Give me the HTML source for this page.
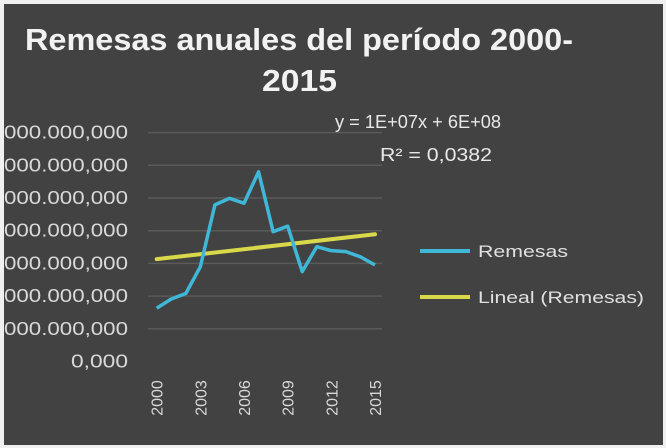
<!DOCTYPE html>
<html><head><meta charset="utf-8"><style>
html,body{margin:0;padding:0;background:#f0f0f0;}
svg{display:block;font-family:"Liberation Sans",sans-serif;}
</style></head><body>
<svg width="666" height="448" viewBox="0 0 666 448">
<rect x="4" y="4" width="659" height="441" fill="#424242"/>
<text x="25" y="50" font-size="31" font-weight="bold" fill="#f2f2f2" textLength="548" lengthAdjust="spacingAndGlyphs">Remesas anuales del período 2000-</text>
<text x="262" y="91" font-size="31" font-weight="bold" fill="#f2f2f2" textLength="75" lengthAdjust="spacingAndGlyphs">2015</text>
<g id="grid"></g>
<g id="ylabels"></g>
<g id="xlabels"></g>
<g id="series"></g>
<text x="335" y="128" font-size="18" fill="#e8e8e8" textLength="166" lengthAdjust="spacingAndGlyphs">y = 1E+07x + 6E+08</text>
<text x="380" y="161" font-size="18" fill="#e8e8e8" textLength="112" lengthAdjust="spacingAndGlyphs">R² = 0,0382</text>
<line x1="420" y1="251" x2="470" y2="251" stroke="#3fb8d8" stroke-width="4"/>
<text x="478" y="257" font-size="17" fill="#e0e0e0" textLength="90" lengthAdjust="spacingAndGlyphs">Remesas</text>
<line x1="420" y1="297" x2="470" y2="297" stroke="#d8d84a" stroke-width="4"/>
<text x="478" y="303" font-size="17" fill="#e0e0e0" textLength="166" lengthAdjust="spacingAndGlyphs">Lineal (Remesas)</text>
</svg>
<script>
const years=[2000,2001,2002,2003,2004,2005,2006,2007,2008,2009,2010,2011,2012,2013,2014,2015];
const remesas=[1.63,1.91,2.08,2.9,4.79,4.99,4.84,5.8,3.97,4.14,2.75,3.51,3.39,3.36,3.2,2.95];
const trendValues=[3.13,3.89];
const yTicks=[0,1,2,3,4,5,6,7];
const yTickLabels=["0,000","000.000,000","000.000,000","000.000,000","000.000,000","000.000,000","000.000,000","000.000,000"];
const xTickLabels=["2000","2003","2006","2009","2012","2015"];
const NS="http://www.w3.org/2000/svg";
const x0=156.7,x1=375,y0=361.5,unit=32.7;
function xs(yr){return x0+(yr-2000)*(x1-x0)/15;}
function ys(v){return y0-v*unit;}
const grid=document.getElementById('grid'),yl=document.getElementById('ylabels'),xl=document.getElementById('xlabels'),ser=document.getElementById('series');
yTicks.forEach((t,i)=>{
 if(t>0){const l=document.createElementNS(NS,'line');
 l.setAttribute('x1',148);l.setAttribute('x2',382);l.setAttribute('y1',ys(t));l.setAttribute('y2',ys(t));
 l.setAttribute('stroke','#5a5a5a');l.setAttribute('stroke-width','1.5');
 
 
 grid.appendChild(l);}
 const tx=document.createElementNS(NS,'text');
 tx.setAttribute('x',128);tx.setAttribute('y',ys(t)+6);tx.setAttribute('text-anchor','end');
 tx.setAttribute('font-size','18');tx.setAttribute('fill','#d8d8d8');
 tx.setAttribute('textLength', t>0?124:57);tx.setAttribute('lengthAdjust','spacingAndGlyphs');
 tx.textContent=yTickLabels[i];
 
 
 yl.appendChild(tx);
});
xTickLabels.forEach(s=>{
 const yr=+s,tx=document.createElementNS(NS,'text');
 const cx=xs(yr)+6,cy=398;
 tx.setAttribute('x',cx);tx.setAttribute('y',cy);tx.setAttribute('text-anchor','middle');
 tx.setAttribute('font-size','16');tx.setAttribute('fill','#d8d8d8');
 tx.setAttribute('transform','rotate(-90 '+cx+' '+cy+')');
 tx.textContent=s;
 
 
 xl.appendChild(tx);
});
const tl=document.createElementNS(NS,'line');
tl.setAttribute('x1',xs(years[0]));tl.setAttribute('y1',ys(trendValues[0]));
tl.setAttribute('x2',xs(years[years.length-1]));tl.setAttribute('y2',ys(trendValues[1]));
tl.setAttribute('stroke','#d8d84a');tl.setAttribute('stroke-width','4');tl.setAttribute('stroke-linecap','round');


ser.appendChild(tl);
const p=document.createElementNS(NS,'polyline');
p.setAttribute('points',years.map((y,i)=>xs(y)+','+ys(remesas[i])).join(' '));
p.setAttribute('fill','none');p.setAttribute('stroke','#3fb8d8');p.setAttribute('stroke-width','3.5');p.setAttribute('stroke-linejoin','round');


ser.appendChild(p);
</script>
</body></html>
